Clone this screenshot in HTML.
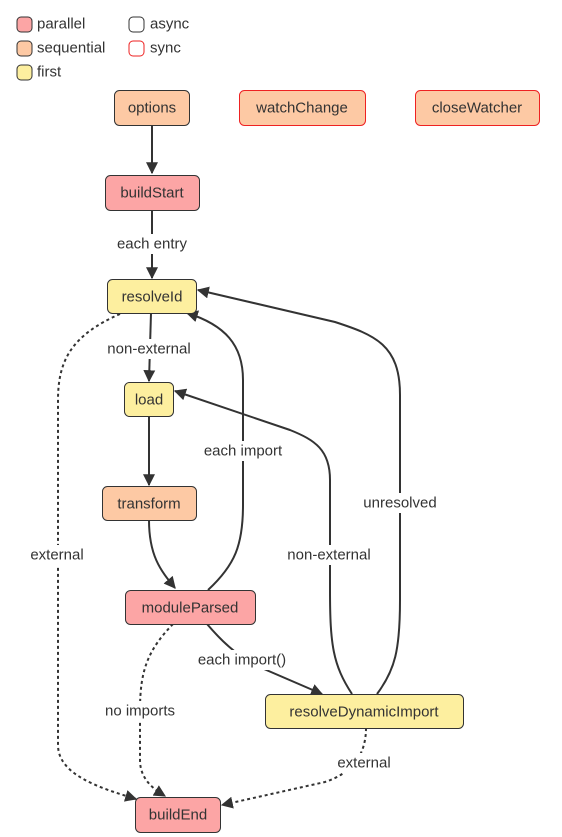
<!DOCTYPE html>
<html><head><meta charset="utf-8"><style>
html,body{margin:0;padding:0;background:#fff;}
svg{display:block;font-family:"Trebuchet MS","Liberation Sans",sans-serif;}
.n{stroke:#333;stroke-width:1;}
.t{font-size:15px;fill:#333;text-anchor:middle;dominant-baseline:central;}
.l{font-size:15px;fill:#333;text-anchor:middle;dominant-baseline:central;}
.e{fill:none;stroke:#333;stroke-width:2;}
.d{fill:none;stroke:#333;stroke-width:2;stroke-dasharray:3 3;}
</style></head><body>
<svg width="562" height="837" viewBox="0 0 562 837">
<defs><marker id="a" viewBox="0 0 10 10" refX="9" refY="5" markerWidth="6" markerHeight="6" orient="auto-start-reverse" markerUnits="userSpaceOnUse"><path d="M0,0L10,5L0,10z" fill="#333"/></marker>
<marker id="b" viewBox="0 0 10 10" refX="9" refY="5" markerWidth="12" markerHeight="12" orient="auto" markerUnits="userSpaceOnUse"><path d="M0,0L10,5L0,10z" fill="#333"/></marker></defs>
<rect width="562" height="837" fill="#fff"/>
<!-- legend -->
<rect x="17" y="17" width="15" height="15" rx="4" fill="#fca5a5" stroke="#333"/>
<rect x="17" y="41" width="15" height="15" rx="4" fill="#fdc9a4" stroke="#333"/>
<rect x="17" y="65" width="15" height="15" rx="4" fill="#fdef9f" stroke="#333"/>
<rect x="129" y="17" width="15" height="15" rx="4" fill="#fff" stroke="#333"/>
<rect x="129" y="41" width="15" height="15" rx="4" fill="#fff" stroke="#e22"/>
<text x="37" y="24" style="font-size:15px;fill:#333;dominant-baseline:central">parallel</text>
<text x="37" y="48" style="font-size:15px;fill:#333;dominant-baseline:central">sequential</text>
<text x="37" y="72" style="font-size:15px;fill:#333;dominant-baseline:central">first</text>
<text x="150" y="24" style="font-size:15px;fill:#333;dominant-baseline:central">async</text>
<text x="150" y="48" style="font-size:15px;fill:#333;dominant-baseline:central">sync</text>
<!-- edges -->
<path class="e" d="M152,125 L152,173" marker-end="url(#b)"/>
<path class="e" d="M152,210 L152,278" marker-end="url(#b)"/>
<path class="e" d="M151,313 L149,381" marker-end="url(#b)"/>
<path class="e" d="M149,416 L149,485" marker-end="url(#b)"/>
<path class="e" d="M149,520 C149,555 160,570 175,588" marker-end="url(#b)"/>
<path class="e" d="M208,590 C235,565 243,545 243,505 L243,380 C243,345 225,325 187,313" marker-end="url(#b)"/>
<path class="e" d="M352,694 C333,665 330,645 330,590 L330,480 C330,450 315,440 290,430 L175,391" marker-end="url(#b)"/>
<path class="e" d="M377,694 C395,670 400,650 400,600 L400,395 C400,345 375,335 335,322 L198,290" marker-end="url(#b)"/>
<path class="e" d="M207,624 C225,645 235,652 250,663 L322,694" marker-end="url(#b)"/>
<path class="d" d="M120,314 C72,335 58,360 58,400 L58,745 C58,775 100,788 136,799" marker-end="url(#b)"/>
<path class="d" d="M173,624 C148,650 140,670 140,710 L140,760 C140,780 155,790 165,796" marker-end="url(#b)"/>
<path class="d" d="M366,728 C366,752 355,772 325,782 L222,805" marker-end="url(#b)"/>
<!-- labels -->
<g class="l">
<rect x="110" y="234" width="84" height="20" fill="#fff"/><text class="l" x="152" y="244">each entry</text>
<rect x="101" y="339" width="96" height="20" fill="#fff"/><text class="l" x="149" y="349">non-external</text>
<rect x="198" y="441" width="90" height="20" fill="#fff"/><text class="l" x="243" y="451">each import</text>
<rect x="25" y="545" width="64" height="20" fill="#fff"/><text class="l" x="57" y="555">external</text>
<rect x="281" y="545" width="96" height="20" fill="#fff"/><text class="l" x="329" y="555">non-external</text>
<rect x="360" y="493" width="80" height="20" fill="#fff"/><text class="l" x="400" y="503">unresolved</text>
<rect x="192" y="650" width="100" height="20" fill="#fff"/><text class="l" x="242" y="660">each import()</text>
<rect x="100" y="701" width="80" height="20" fill="#fff"/><text class="l" x="140" y="711">no imports</text>
<rect x="332" y="753" width="64" height="20" fill="#fff"/><text class="l" x="364" y="763">external</text>
</g>
<!-- nodes -->
<rect class="n" x="114.5" y="90.5" width="75" height="35" rx="5" fill="#fdc9a4"/><text class="t" x="152" y="108">options</text>
<rect x="239.5" y="90.5" width="126" height="35" rx="5" fill="#fdc9a4" stroke="#e22"/><text class="t" x="302" y="108">watchChange</text>
<rect x="415.5" y="90.5" width="124" height="35" rx="5" fill="#fdc9a4" stroke="#e22"/><text class="t" x="477" y="108">closeWatcher</text>
<rect class="n" x="105.5" y="175.5" width="94" height="35" rx="5" fill="#fca5a5"/><text class="t" x="152" y="193">buildStart</text>
<rect class="n" x="107.5" y="279.5" width="89" height="34" rx="5" fill="#fdef9f"/><text class="t" x="152" y="297">resolveId</text>
<rect class="n" x="124.5" y="382.5" width="49" height="34" rx="5" fill="#fdef9f"/><text class="t" x="149" y="400">load</text>
<rect class="n" x="102.5" y="486.5" width="94" height="34" rx="5" fill="#fdc9a4"/><text class="t" x="149" y="504">transform</text>
<rect class="n" x="125.5" y="590.5" width="130" height="34" rx="5" fill="#fca5a5"/><text class="t" x="190" y="608">moduleParsed</text>
<rect class="n" x="265.5" y="694.5" width="198" height="34" rx="5" fill="#fdef9f"/><text class="t" x="364" y="712">resolveDynamicImport</text>
<rect class="n" x="135.5" y="797.5" width="85" height="35" rx="5" fill="#fca5a5"/><text class="t" x="178" y="815">buildEnd</text>
</svg>
</body></html>
